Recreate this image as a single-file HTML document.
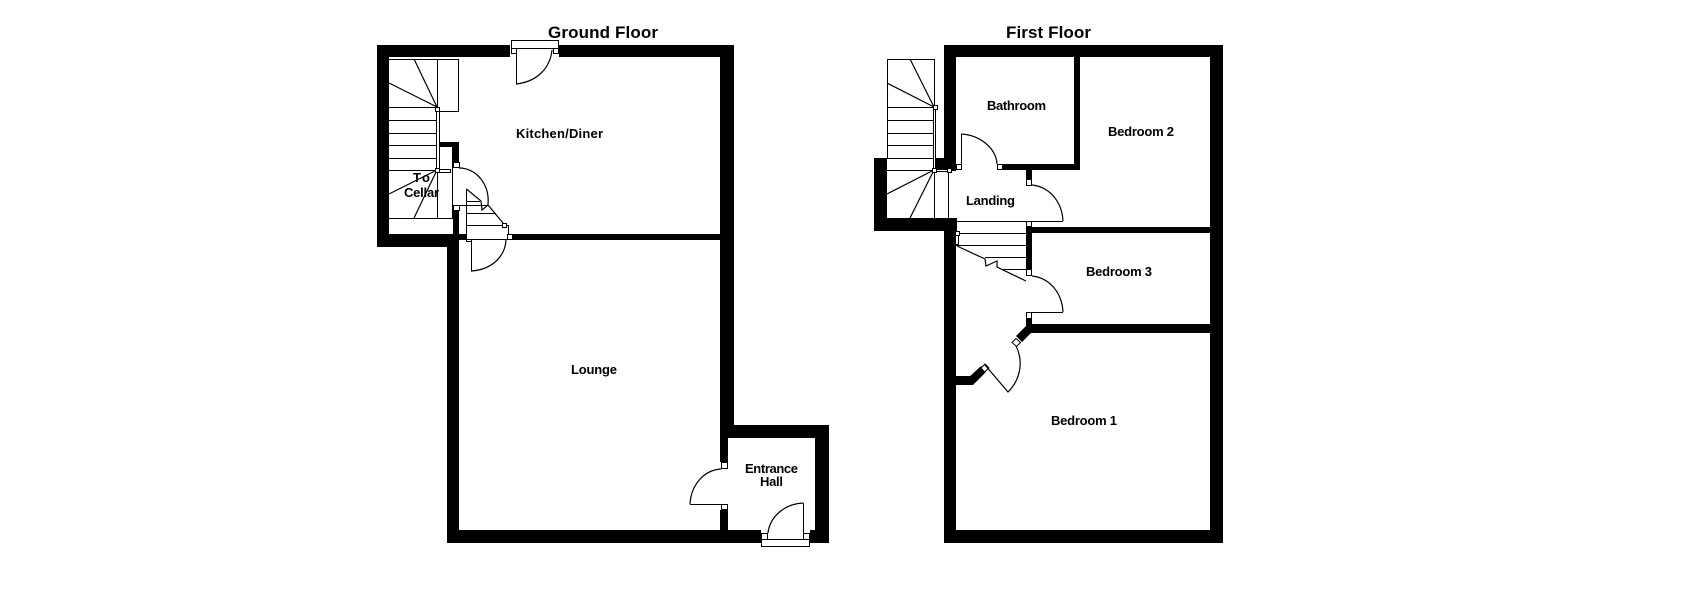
<!DOCTYPE html>
<html><head><meta charset="utf-8"><style>
html,body{margin:0;padding:0;background:#fff}
svg{display:block}
.w{fill:#000;shape-rendering:crispEdges}
.o{fill:#fff;stroke:#000;stroke-width:1;shape-rendering:crispEdges}
.l{fill:none;stroke:#000;stroke-width:1.2}
.c{fill:none;stroke:#000;stroke-width:1;shape-rendering:crispEdges}
text{font-family:"Liberation Sans",sans-serif;font-weight:bold;fill:#000;font-size:13px}
.h{font-size:17px}
</style></head><body>
<svg width="1705" height="612" viewBox="0 0 1705 612" xmlns="http://www.w3.org/2000/svg">
<rect width="1705" height="612" fill="#fff"/>

<!-- GROUND FLOOR walls -->
<rect class="w" x="377" y="45" width="133" height="12"/>
<rect class="w" x="559" y="45" width="175" height="12"/>
<rect class="w" x="377" y="45" width="12" height="202"/>
<rect class="w" x="377" y="234" width="82" height="13"/>
<rect class="w" x="459" y="234" width="7" height="6"/>
<rect class="w" x="447" y="234" width="12" height="309"/>
<rect class="w" x="513" y="234" width="207" height="6"/>
<rect class="w" x="720" y="45" width="14" height="393"/>
<rect class="w" x="720" y="425" width="109" height="13"/>
<rect class="w" x="815" y="425" width="14" height="118"/>
<rect class="w" x="447" y="530" width="314" height="13"/>
<rect class="w" x="810" y="530" width="19" height="13"/>
<rect class="w" x="440" y="142" width="19" height="5"/>
<rect class="w" x="453" y="142" width="6" height="20"/>
<rect class="w" x="453" y="210" width="6" height="24"/>
<!-- clear entrance door opening -->
<rect x="728" y="438" width="87" height="92" fill="#fff"/>
<rect x="720" y="462" width="8" height="48" fill="#fff"/>
<rect x="734" y="438" width="1" height="0" fill="#fff"/>
<rect class="w" x="720" y="438" width="8" height="24"/>
<rect class="w" x="720" y="510" width="8" height="20"/>

<!-- top kitchen door -->
<rect class="o" x="511.500" y="40.500" width="47" height="8"/>
<rect class="o" x="511.500" y="48.500" width="5" height="5"/>
<rect class="o" x="553.500" y="48.500" width="5" height="5"/>
<path class="c" d="M516.500 49V84"/>
<path class="l" d="M516 84C535 82 550 70 552 50"/>

<!-- ground stairs -->
<path class="c" d="M389 59.500H458.500V111.500H437.500M437.500 59V218M389 107.500H437M389 120.500H437M389 133.500H437M389 145.500H437M389 158.500H437M389 170.500H437M389 218.500H453M452.500 147V218"/>
<path class="l" d="M437 107L414 59M437 107L389 83M437 170L389 194M437 170L414 218"/>
<rect class="o" x="436.500" y="109.500" width="3" height="60"/>
<rect class="o" x="437.500" y="169.500" width="13" height="3"/>
<rect class="o" x="435.500" y="107.500" width="4" height="4"/>
<rect class="o" x="435.500" y="168.500" width="4" height="4"/>
<rect class="o" x="453.500" y="162.500" width="6" height="5"/>
<rect class="o" x="453.500" y="205.500" width="6" height="5"/>
<path class="c" d="M453 205.500H488"/>
<path class="l" d="M459 168C476 168 490 184 488 205"/>

<!-- small stair -->
<path class="c" d="M466.500 189V239.500H508.500V225.500H466M466 201.500H480M466 213.500H496"/>
<path class="l" d="M466.500 189L481 201L482 210L488 205L503 223"/>
<rect class="o" x="502.500" y="223.500" width="4" height="4"/>
<rect class="o" x="507.500" y="234.500" width="5" height="5"/>
<rect class="o" x="466.500" y="239.500" width="5" height="2"/>
<path class="c" d="M471.500 239V271"/>
<path class="l" d="M471 271C490 270 505 258 506 240"/>

<!-- entrance doors -->
<rect class="o" x="721.500" y="462.500" width="6" height="6"/>
<rect class="o" x="721.500" y="504.500" width="6" height="5"/>
<path class="c" d="M690 504.500H721"/>
<path class="l" d="M690 504C691 485 704 470 721 469"/>
<rect class="o" x="761.500" y="539.500" width="48" height="7"/>
<rect class="o" x="761.500" y="533.500" width="6" height="6"/>
<rect class="o" x="803.500" y="533.500" width="6" height="6"/>
<path class="c" d="M803.500 503V539"/>
<path class="l" d="M803 503C785 504 770 516 768 533"/>

<!-- FIRST FLOOR walls -->
<rect class="w" x="944" y="45" width="279" height="12"/>
<rect class="w" x="944" y="45" width="12" height="125"/>
<rect class="w" x="934" y="158" width="22" height="12"/>
<rect class="w" x="874" y="158" width="13" height="73"/>
<rect class="w" x="874" y="218" width="83" height="13"/>
<rect class="w" x="944" y="218" width="12" height="325"/>
<rect class="w" x="1210" y="45" width="13" height="498"/>
<rect class="w" x="944" y="530" width="279" height="13"/>
<rect class="w" x="1074" y="57" width="6" height="113"/>
<rect class="w" x="1003" y="164" width="77" height="6"/>
<rect class="w" x="1026" y="170" width="6" height="9"/>
<rect class="w" x="1032" y="227" width="178" height="6"/>
<rect class="w" x="1026" y="227" width="6" height="42"/>
<rect class="w" x="1026" y="319" width="6" height="14"/>
<rect class="w" x="1026" y="324" width="184" height="9"/>
<path d="M1026 326L1032 332L1022 342L1016 336Z" fill="#000"/>
<rect class="w" x="956" y="376" width="17" height="9"/>
<path d="M968 378L981 366L986 372L973 385Z" fill="#000"/>

<!-- first stairs -->
<path class="c" d="M887.500 158V59.500H934.500V107M887 107.500H934M887 120.500H934M887 133.500H934M887 145.500H934M887 158.500H934M887 170.500H956M934.500 170V218M948.500 170V218"/>
<path class="l" d="M934 107L910 59M934 107L887 83M934 170L887 194M934 170L910 218"/>
<rect class="o" x="933.500" y="108.500" width="2" height="61"/>
<rect class="o" x="935.500" y="169.500" width="13" height="2"/>
<rect class="o" x="933.500" y="105.500" width="4" height="4"/>
<rect class="o" x="932.500" y="168.500" width="4" height="4"/>
<rect class="o" x="947.500" y="168.500" width="4" height="4"/>

<!-- bathroom door -->
<rect class="o" x="956.500" y="164.500" width="5" height="5"/>
<rect class="o" x="997.500" y="164.500" width="5" height="5"/>
<path class="c" d="M961.500 134V170"/>
<path class="l" d="M961 134C980 135 996 148 997 164"/>
<!-- bedroom2 door -->
<rect class="o" x="1026.500" y="179.500" width="5" height="6"/>
<rect class="o" x="1026.500" y="221.500" width="5" height="5"/>
<path class="c" d="M957 221.500H1063"/>
<path class="l" d="M1032 185C1050 187 1062 202 1063 221"/>

<!-- lower stair -->
<path class="c" d="M956 233.500H1026M956 245.500H1026M985 257.500H1026M1003 269.500H1026"/>
<path class="l" d="M957 246L985 259L986 266L997 261L997 267L1026 281"/>
<rect class="o" x="955.500" y="233.500" width="3" height="11"/>
<rect class="o" x="955.500" y="231.500" width="4" height="4"/>

<!-- bedroom3 door -->
<rect class="o" x="1026.500" y="269.500" width="5" height="6"/>
<rect class="o" x="1026.500" y="312.500" width="5" height="6"/>
<path class="c" d="M1026 312.500H1063"/>
<path class="l" d="M1032 276C1050 278 1062 293 1063 312"/>

<!-- bedroom1 door -->
<path d="M1016 338.500L1020.500 342.500L1016.500 346.500L1012 342.500Z" fill="#fff" stroke="#000"/>
<path d="M985 364L989 368L984.500 372L981 368Z" fill="#fff" stroke="#000"/>
<path class="l" d="M1016 346C1024 362 1020 380 1008 392L985 365"/>

<!-- labels -->
<text class="h" x="548" y="38" textLength="110" lengthAdjust="spacing">Ground Floor</text>
<text class="h" x="1006" y="38" textLength="85" lengthAdjust="spacing">First Floor</text>
<text x="516" y="138" textLength="87" lengthAdjust="spacing">Kitchen/Diner</text>
<text x="571" y="374" textLength="46" lengthAdjust="spacing">Lounge</text>
<text x="745" y="473" textLength="53" lengthAdjust="spacing">Entrance</text>
<text x="760" y="486" textLength="23" lengthAdjust="spacing">Hall</text>
<text x="413" y="182" textLength="17" lengthAdjust="spacing">To</text>
<text x="404" y="197" textLength="35" lengthAdjust="spacing">Cellar</text>
<text x="987" y="110" textLength="59" lengthAdjust="spacing">Bathroom</text>
<text x="966" y="205" textLength="49" lengthAdjust="spacing">Landing</text>
<text x="1108" y="136" textLength="66" lengthAdjust="spacing">Bedroom 2</text>
<text x="1086" y="276" textLength="66" lengthAdjust="spacing">Bedroom 3</text>
<text x="1051" y="425" textLength="66" lengthAdjust="spacing">Bedroom 1</text>
</svg>
</body></html>
